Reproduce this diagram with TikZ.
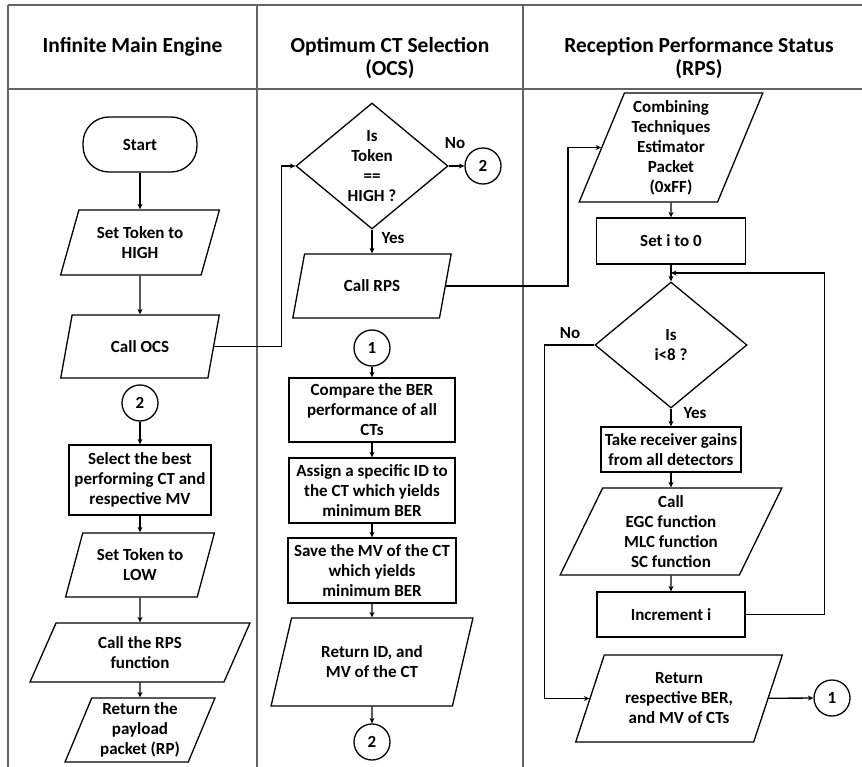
\documentclass[tikz,border=0pt]{standalone}
\usepackage{fontspec}
\setmainfont{Carlito}
\usetikzlibrary{shapes.geometric, arrows.meta, positioning, calc}
\definecolor{gridgray}{RGB}{100,100,100}

\begin{document}
\begin{tikzpicture}[x=1pt, y=-1pt,
    every node/.style={font=\fontsize{17}{20}\selectfont\bfseries, align=center, inner sep=0pt},
    term/.style={rectangle, rounded corners=26pt, draw, line width=1.3pt, minimum width=114pt, minimum height=55pt},
    proc/.style={rectangle, draw, line width=1.3pt},
    io/.style={trapezium, trapezium left angle=68, trapezium right angle=112, trapezium stretches=true, draw, line width=1.3pt},
    decide/.style={diamond, aspect=1.2, draw, line width=1.3pt, minimum width=152pt, minimum height=126pt},
    conn/.style={circle, draw, line width=1.3pt, minimum size=36pt},
    head/.style={font=\fontsize{21.5}{23}\selectfont\bfseries},
    flow/.style={-{Stealth[length=5.5pt, width=5pt]}, line width=1.3pt}
]
    \useasboundingbox (0,0) rectangle (862,767);

    % table frame
    \draw[gridgray, line width=1.5pt] (8,5) -- (862,5) (8,89) -- (862,89)
        (8,5) -- (8,767) (257,5) -- (257,767) (523,5) -- (523,767);

    \node[head] (h1) at (132.5,47) {Infinite Main Engine};
    \node[head] (h2) at (390,58.5) {Optimum CT Selection\\(OCS)};
    \node[head] (h3) at (699,58.5) {Reception Performance Status\\(RPS)};

    % main engine
    \node[term] (start) at (140,144.5) {Start};
    \node[io, minimum width=159pt, minimum height=65pt] (tokhi) at (140,242.5) {Set Token to\\HIGH};
    \node[io, minimum width=159pt, minimum height=63pt] (callocs) at (140,346.5) {Call OCS};
    \node[conn] (ctwo) at (140,403) {2};
    \node[proc, minimum width=142pt, minimum height=70pt] (select) at (140,480) {Select the best\\performing CT and\\respective MV};
    \node[io, minimum width=149pt, minimum height=64pt] (toklo) at (140,565) {Set Token to\\LOW};
    \node[io, minimum width=220pt, minimum height=59pt] (callrpsf) at (140,652.5) {Call the RPS\\function};
    \node[io, minimum width=150pt, minimum height=64pt] (retrp) at (140,730) {Return the\\payload\\packet (RP)};

    % OCS
    \node[decide] (istok) at (372,166) {Is\\Token\\==\\HIGH ?};
    \node[conn] (ctwoA) at (483,166) {2};
    \node[io, minimum width=159pt, minimum height=64pt] (callrps) at (372,286) {Call RPS};
    \node[conn] (cone) at (372,348) {1};
    \node[proc, minimum width=166pt, minimum height=64pt] (compare) at (372,410) {Compare the BER\\performance of all\\CTs};
    \node[proc, minimum width=166pt, minimum height=65pt] (assign) at (372,490.5) {Assign a specific ID to\\the CT which yields\\minimum BER};
    \node[proc, minimum width=168pt, minimum height=65pt] (save) at (372,570.5) {Save the MV of the CT\\which yields\\minimum BER};
    \node[io, minimum width=202pt, minimum height=88pt] (retid) at (372,662) {Return ID, and\\MV of the CT};
    \node[conn] (ctwoB) at (372,742) {2};

    % RPS
    \node[io, minimum width=184pt, minimum height=109pt] (ctep) at (671,147.5) {Combining\\Techniques\\Estimator\\Packet\\(0xFF)};
    \node[proc, minimum width=149pt, minimum height=46pt] (seti) at (671,241) {Set i to 0};
    \node[decide] (isi) at (671,345) {Is\\i<8 ?};
    \node[proc, minimum width=140pt, minimum height=45pt] (gains) at (671,449.5) {Take receiver gains\\from all detectors};
    \node[io, minimum width=222pt, minimum height=87pt] (callcomb) at (671,531.5) {Call\\EGC function\\MLC function\\SC function};
    \node[proc, minimum width=148pt, minimum height=45pt] (inc) at (671,614.5) {Increment i};
    \node[io, minimum width=207pt, minimum height=87pt] (retber) at (679,698.5) {Return\\respective BER,\\and MV of CTs};
    \node[conn] (coneA) at (832,698) {1};

    % branch labels
    \node (nohi) at (455,143) {No};
    \node (yeshi) at (393,238) {Yes};
    \node (noi) at (570,333) {No};
    \node (yesi) at (695,413) {Yes};

    \coordinate (loopin) at ($(seti.south)!0.5!(isi.north)$);

    \draw[flow] (start) -- (tokhi);
    \draw[flow] (tokhi) -- (callocs);
    \draw[flow] (ctwo) -- (select);
    \draw[flow] (select) -- (toklo);
    \draw[flow] (toklo) -- (callrpsf);
    \draw[flow] (callrpsf) -- (retrp);
    \draw[flow] (callocs.east) -- ++(67,0) |- (istok.west);

    \draw[flow] (istok) -- (ctwoA);
    \draw[flow] (istok) -- (callrps);
    \draw[flow] (callrps.east) -- ++(122,0) |- (ctep.west);
    \draw[flow] (cone) -- (compare);
    \draw[flow] (compare) -- (assign);
    \draw[flow] (assign) -- (save);
    \draw[flow] (save) -- (retid);
    \draw[flow] (retid) -- (ctwoB);

    \draw[flow] (ctep) -- (seti);
    \draw[flow] (seti) -- (isi);
    \draw[flow] (isi) -- (gains);
    \draw[flow] (gains) -- (callcomb);
    \draw[flow] (callcomb) -- (inc);
    \draw[flow] (inc.east) -- ++(79,0) |- (loopin);
    \draw[flow] (isi.west) -- ++(-50,0) |- (retber.west);
    \draw[flow] (retber) -- (coneA);
\end{tikzpicture}
\end{document}
